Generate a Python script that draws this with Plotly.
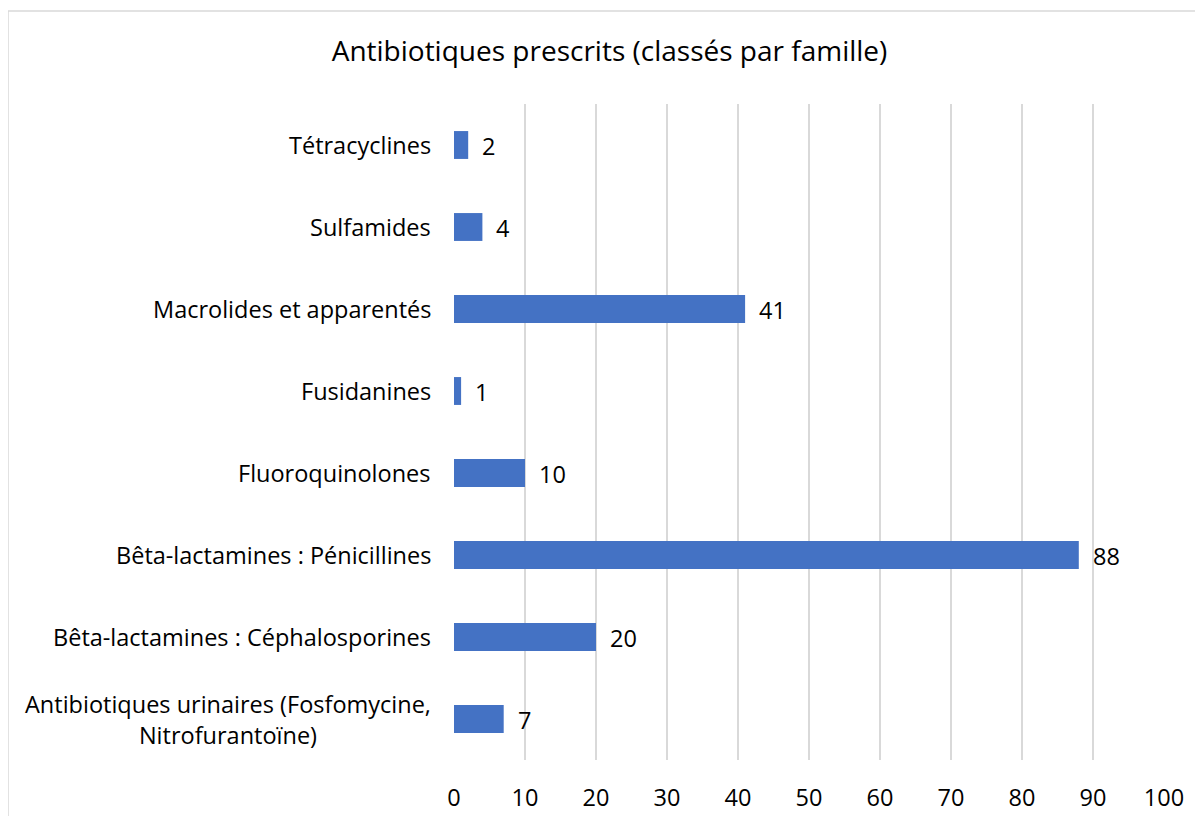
import plotly.graph_objects as go

categories = [
    "Antibiotiques urinaires (Fosfomycine,<br>Nitrofurantoïne)",
    "Bêta-lactamines : Céphalosporines",
    "Bêta-lactamines : Pénicillines",
    "Fluoroquinolones",
    "Fusidanines",
    "Macrolides et apparentés",
    "Sulfamides",
    "Tétracyclines",
]
values = [7, 20, 88, 10, 1, 41, 4, 2]
x_ticks = [0, 10, 20, 30, 40, 50, 60, 70, 80, 90, 100]
title = "Antibiotiques prescrits (classés par famille)"

FONT = "Open Sans"
FS = 23.5
L, T, W, H = 446, 96, 710, 656
fig = go.Figure()
fig.add_trace(go.Bar(
    x=values, y=categories, orientation="h",
    marker=dict(color="#4472C4", line=dict(width=0)),
    hoverinfo="x+y",
))

annotations = []
for c, v in zip(categories, values):
    annotations.append(dict(
        x=v, y=c, xref="x", yref="y", text=str(v), showarrow=False,
        xanchor="left", yanchor="middle", xshift=12, yshift=-1,
        font=dict(family=FONT, size=FS, color="#000000"),
    ))
    annotations.append(dict(
        x=0, y=c, xref="paper", yref="y", text=c, showarrow=False,
        xanchor="right", yanchor="middle", align="center", xshift=-21,
        font=dict(family=FONT, size=FS, color="#000000"),
    ))

fig.update_layout(
    width=1203, height=816,
    margin=dict(l=L, r=1203 - L - W, t=T, b=816 - T - H),
    paper_bgcolor="white", plot_bgcolor="white",
    bargap=0.66,
    showlegend=False,
    title=dict(text=title, x=0.5, xanchor="center", xref="container",
               y=1 - 43 / 816, yref="container", yanchor="middle",
               font=dict(family=FONT, size=28, color="#000000")),
    font=dict(family=FONT, size=FS, color="#000000"),
    annotations=annotations,
    shapes=[dict(type="rect", xref="paper", yref="paper",
                 x0=(0 - L) / W, x1=1.3, y0=-0.3, y1=1 + (T - 3) / H,
                 line=dict(color="#D9D9D9", width=1.5), layer="below")],
)
fig.update_xaxes(
    range=[0, 100], tickvals=x_ticks, showgrid=True, gridcolor="#D9D9D9",
    gridwidth=1.5, zeroline=False, showline=False, ticks="",
    ticklabelstandoff=21,
    tickfont=dict(family=FONT, size=FS, color="#000000"),
)
fig.update_yaxes(showticklabels=False, showgrid=False, zeroline=False,
                 showline=False, ticks="")

fig.write_html("out.html")
